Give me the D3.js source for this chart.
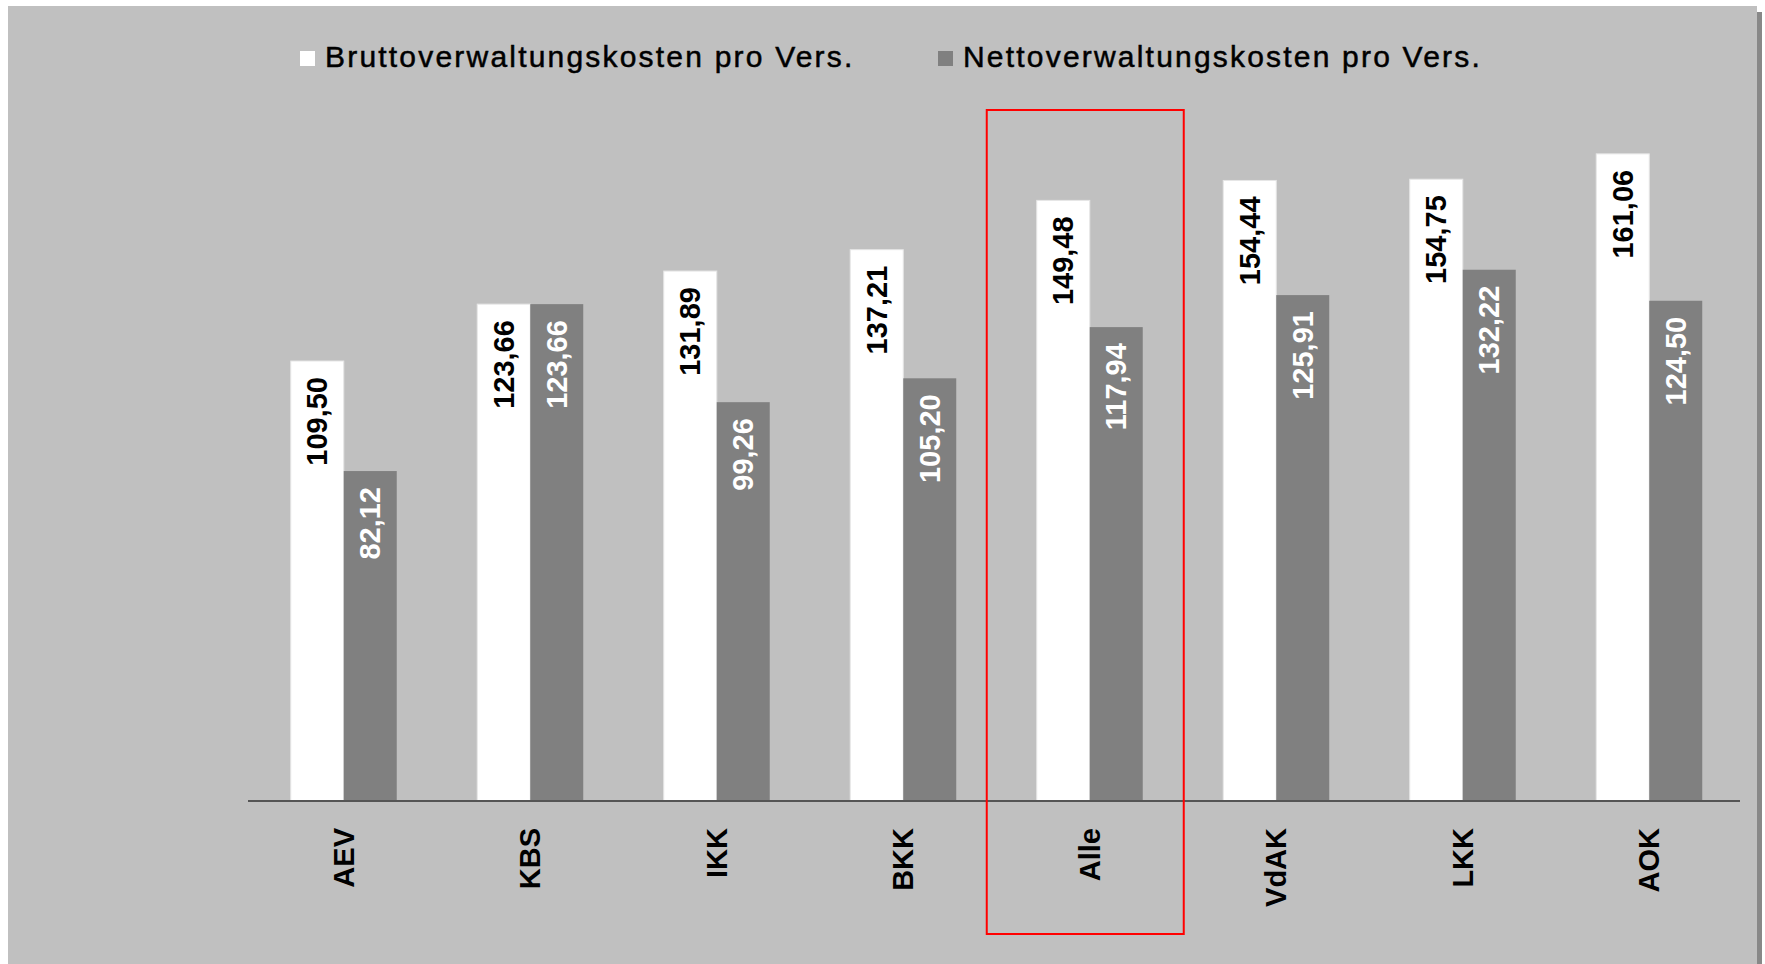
<!DOCTYPE html>
<html>
<head>
<meta charset="utf-8">
<script src="https://cdn.jsdelivr.net/npm/d3@7"></script>
<style>
  html, body { margin: 0; padding: 0; background: #fff; }
  svg { display: block; font-family: "Liberation Sans", Arial, sans-serif; }
</style>
</head>
<body>
<svg id="chart" width="1765" height="964"></svg>
<script>
const categories = ['AEV', 'KBS', 'IKK', 'BKK', 'Alle', 'VdAK', 'LKK', 'AOK'];
const brutto = [109.50, 123.66, 131.89, 137.21, 149.48, 154.44, 154.75, 161.06];
const netto = [82.12, 123.66, 99.26, 105.20, 117.94, 125.91, 132.22, 124.50];
const seriesNames = ['Bruttoverwaltungskosten pro Vers.', 'Nettoverwaltungskosten pro Vers.'];
const highlight = 'Alle';

const svg = d3.select('#chart');
const fmt = v => v.toFixed(2).replace('.', ',');

// Panel background + shadow on the right
svg.append('rect').attr('x', 1757).attr('y', 12).attr('width', 5).attr('height', 952).attr('fill', '#888');
svg.append('rect').attr('x', 8).attr('y', 6).attr('width', 1749).attr('height', 958).attr('fill', '#c0c0c0');

const baseY = 801;
const x0 = d3.scaleBand().domain(categories).range([250.5, 1742.5]);
const x1 = d3.scaleBand().domain([0, 1]).range([-53, 53]);
const y = d3.scaleLinear().domain([0, 180]).range([baseY, baseY - 180 * 4.018]);

const series = [
  { values: brutto, fill: '#ffffff', text: '#000000' },
  { values: netto, fill: '#808080', text: '#ffffff' }
];

const groups = svg.append('g')
  .selectAll('g')
  .data(categories)
  .join('g')
  .attr('transform', d => `translate(${x0(d) + x0.bandwidth() / 2},0)`);

series.forEach((s, si) => {
  groups.append('rect')
    .attr('x', x1(si))
    .attr('width', x1.bandwidth())
    .attr('y', (d, i) => y(s.values[i]))
    .attr('height', (d, i) => baseY - y(s.values[i]))
    .attr('fill', s.fill)
    .attr('stroke', si === 0 ? '#e6e6e6' : 'none')
    .attr('stroke-width', 1);

  groups.append('text')
    .attr('transform', (d, i) => `translate(${x1(si) + x1.bandwidth() / 2 + 10},${y(s.values[i]) + 16}) rotate(-90)`)
    .attr('text-anchor', 'end')
    .attr('font-size', 29)
    .attr('font-weight', 'bold')
    .attr('fill', s.text)
    .text((d, i) => fmt(s.values[i]));
});

// Axis line
svg.append('line')
  .attr('x1', 248).attr('x2', 1740)
  .attr('y1', baseY).attr('y2', baseY)
  .attr('stroke', '#555').attr('stroke-width', 2);

// Category labels
groups.append('text')
  .attr('transform', `translate(10,${baseY + 27}) rotate(-90)`)
  .attr('text-anchor', 'end')
  .attr('font-size', 29)
  .attr('font-weight', 'bold')
  .attr('fill', '#000')
  .text(d => d);

// Highlight box
const hx = x0(highlight) + x0.bandwidth() / 2;
svg.append('rect')
  .attr('x', hx - 103)
  .attr('y', 110)
  .attr('width', 197)
  .attr('height', 824)
  .attr('fill', 'none')
  .attr('stroke', '#ff0000')
  .attr('stroke-width', 2);

// Legend
const legendX = [300, 938];
const legend = svg.append('g')
  .selectAll('g')
  .data(seriesNames)
  .join('g')
  .attr('transform', (d, i) => `translate(${legendX[i]},51)`);
legend.append('rect')
  .attr('width', 15).attr('height', 15)
  .attr('fill', (d, i) => series[i].fill);
legend.append('text')
  .attr('x', 25).attr('y', 15.7)
  .attr('font-size', 30)
  .attr('letter-spacing', 2.2)
  .attr('stroke', '#000')
  .attr('stroke-width', 0.5)
  .attr('fill', '#000')
  .text(d => d);
</script>
</body>
</html>
